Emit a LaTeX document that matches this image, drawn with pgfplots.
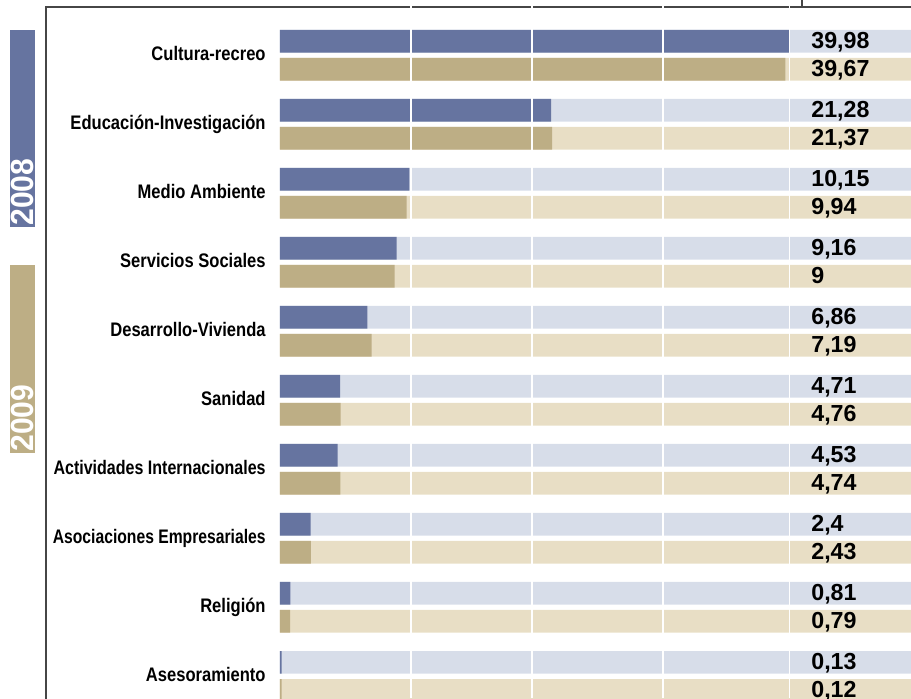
\documentclass[border=0pt]{standalone}
\usepackage{pgfplots}
\pgfplotsset{compat=1.18}
\usepackage{pgfplotstable}
\usepackage{graphicx}
\usepackage{fontspec}
\setmainfont{Liberation Sans}
\newfontfamily\condfont{Liberation Sans}[FakeStretch=0.845]
\newfontfamily\yearfont{Liberation Sans}[FakeStretch=0.94]

\definecolor{azul}{RGB}{102,116,160}
\definecolor{ocre}{RGB}{189,174,133}
\definecolor{azulclaro}{RGB}{215,221,233}
\definecolor{ocreclaro}{RGB}{232,222,197}
\definecolor{marco}{RGB}{70,70,70}

% 2008 / 2009 por sector
\pgfplotstableread{
idx v08 v09
0 39.98 39.67
1 21.28 21.37
2 10.15 9.94
3 9.16 9
4 6.86 7.19
5 4.71 4.76
6 4.53 4.74
7 2.4 2.43
8 0.81 0.79
9 0.13 0.12
}\datos

\begin{document}
\begin{tikzpicture}[x=0.5pt,y=-0.5pt]
\useasboundingbox (0,0) rectangle (911,698);
\clip (0,0) rectangle (911,698);

% marco
\draw[marco, line width=0.75pt] (46,700) -- (46,7) -- (912,7);
\draw[marco, line width=0.75pt] (802,-2) -- (802,7);

% leyenda lateral
\fill[azul] (10,30) rectangle (35,227);
\fill[ocre] (10,265) rectangle (35,453);
\node[rotate=90, anchor=west, inner sep=0pt, text=white,
  font=\yearfont\bfseries\fontsize{16}{16}\selectfont] at (22.5,226) {2008};
\node[rotate=90, anchor=west, inner sep=0pt, text=white,
  font=\yearfont\bfseries\fontsize{16}{16}\selectfont] at (22.5,452) {2009};

\begin{axis}[
  at={(140pt,0pt)}, anchor=north west,
  scale only axis, width=315.5pt, height=349pt,
  xmin=0, xmax=49.53,
  y dir=reverse, ymin=-0.8014, ymax=9.314,
  axis line style={draw=none},
  major tick length=0pt,
  xtick=\empty,
  ytick={0,...,9},
  yticklabels={Cultura-recreo, Educación-Investigación, Medio Ambiente,
    Servicios Sociales, Desarrollo-Vivienda, Sanidad,
    \scalebox{0.968}[1]{Actividades Internacionales},
    \scalebox{0.947}[1]{Asociaciones Empresariales},
    Religión, Asesoramiento},
  yticklabel style={font=\condfont\bfseries\fontsize{9.8}{11}\selectfont,
    anchor=base east, inner sep=0pt, xshift=-7pt, yshift=-2.6pt},
  /pgf/number format/.cd, use comma, precision=2, assume math mode=true,
]
% fondos
\addplot[xbar, bar shift=0pt, bar width=11.35pt, fill=azulclaro, draw=none]
  table[x expr=49.53, y expr=\thisrow{idx}-0.2029]{\datos};
\addplot[xbar, bar shift=0pt, bar width=11.35pt, fill=ocreclaro, draw=none]
  table[x expr=49.53, y expr=\thisrow{idx}+0.2029]{\datos};
% valores
\addplot[xbar, bar shift=0pt, bar width=11.35pt, fill=azul, draw=none]
  table[x=v08, y expr=\thisrow{idx}-0.2029]{\datos};
\addplot[xbar, bar shift=0pt, bar width=11.35pt, fill=ocre, draw=none]
  table[x=v09, y expr=\thisrow{idx}+0.2029]{\datos};
% lineas blancas de la rejilla
\pgfplotsinvokeforeach{10.3,19.8,30.06,40}{
  \draw[white, line width=0.75pt] (axis cs:#1,-0.8014) -- (axis cs:#1,9.314);
}
% etiquetas
\addplot[draw=none, mark=none, point meta=explicit, nodes near coords,
  every node near coord/.append style={anchor=base west, inner sep=0pt,
    yshift=-3.5pt, font=\bfseries\fontsize{11.6}{12}\selectfont}]
  table[x expr=41.68, y expr=\thisrow{idx}-0.2029, meta=v08]{\datos};
\addplot[draw=none, mark=none, point meta=explicit, nodes near coords,
  every node near coord/.append style={anchor=base west, inner sep=0pt,
    yshift=-3.5pt, font=\bfseries\fontsize{11.6}{12}\selectfont}]
  table[x expr=41.68, y expr=\thisrow{idx}+0.2029, meta=v09]{\datos};
\end{axis}
\end{tikzpicture}
\end{document}
